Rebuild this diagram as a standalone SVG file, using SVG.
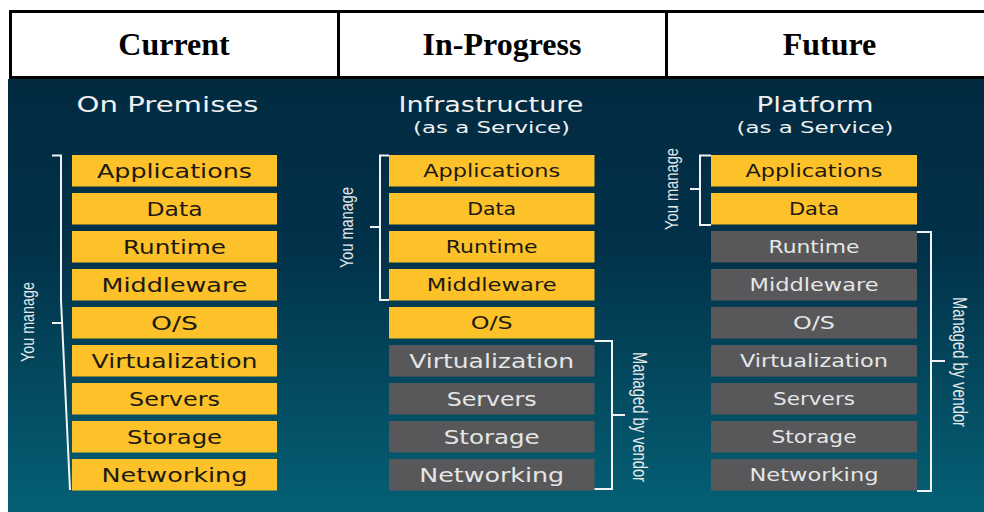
<svg xmlns="http://www.w3.org/2000/svg" width="984" height="512" viewBox="0 0 984 512">
<defs>
<linearGradient id="bg" x1="0" y1="0" x2="0" y2="1">
<stop offset="0" stop-color="#012a40"/>
<stop offset="0.4" stop-color="#01324a"/>
<stop offset="1" stop-color="#056074"/>
</linearGradient>
<style>
.hdr{font-family:"Liberation Serif","Times New Roman",serif;font-weight:bold;font-size:32px;fill:#000;text-anchor:middle}
.hl{stroke:#000;stroke-width:3;fill:none}
.title{font-family:"DejaVu Sans","Open Sans",sans-serif;fill:#f0f0f0;text-anchor:middle}
.y{fill:#fdc12a}
.g{fill:#58585a}
.bt{font-family:"DejaVu Sans","Open Sans",sans-serif;text-anchor:middle}
.dk{fill:#1c1a10}
.lt{fill:#e6e6e6}
.s1{font-size:19.5px}
.s2{font-size:17px}
.br{stroke:#f2f2f2;stroke-width:2;fill:none}
.side{font-family:"Liberation Sans",Arial,sans-serif;fill:#e4e8ea;text-anchor:middle}
</style>
</defs>
<rect width="984" height="512" fill="#fff"/>
<g id="header">
<line class="hl" x1="9" y1="11.5" x2="984" y2="11.5"/>
<line class="hl" x1="9" y1="77.5" x2="984" y2="77.5"/>
<line class="hl" x1="10.5" y1="10" x2="10.5" y2="79"/>
<line class="hl" x1="338.5" y1="10" x2="338.5" y2="79"/>
<line class="hl" x1="666.5" y1="10" x2="666.5" y2="79"/>
<text class="hdr" x="174" y="55">Current</text>
<text class="hdr" x="502" y="55">In-Progress</text>
<text class="hdr" x="829.5" y="55">Future</text>
</g>
<rect id="panel" x="8" y="79" width="976" height="433" fill="url(#bg)"/>
<g id="titles">
<text class="title" x="167.5" y="112" font-size="21" textLength="182" lengthAdjust="spacingAndGlyphs">On Premises</text>
<text class="title" x="491" y="112" font-size="20.5" textLength="185" lengthAdjust="spacingAndGlyphs">Infrastructure</text>
<text class="title" x="491.5" y="133" font-size="16.5" textLength="157" lengthAdjust="spacingAndGlyphs">(as a Service)</text>
<text class="title" x="815" y="112" font-size="20.5" textLength="117" lengthAdjust="spacingAndGlyphs">Platform</text>
<text class="title" x="815" y="133" font-size="16.5" textLength="157" lengthAdjust="spacingAndGlyphs">(as a Service)</text>
</g>
<g id="col-onprem">
<g id="op-applications"><rect class="y" x="72" y="155" width="205" height="31.5"/><text class="bt dk s1" x="174.5" y="178" textLength="155" lengthAdjust="spacingAndGlyphs">Applications</text></g>
<g id="op-data"><rect class="y" x="72" y="193" width="205" height="31.5"/><text class="bt dk s1" x="174.5" y="216" textLength="56" lengthAdjust="spacingAndGlyphs">Data</text></g>
<g id="op-runtime"><rect class="y" x="72" y="231" width="205" height="31.5"/><text class="bt dk s1" x="174.5" y="254" textLength="103" lengthAdjust="spacingAndGlyphs">Runtime</text></g>
<g id="op-middleware"><rect class="y" x="72" y="269" width="205" height="31.5"/><text class="bt dk s1" x="174.5" y="292" textLength="146" lengthAdjust="spacingAndGlyphs">Middleware</text></g>
<g id="op-os"><rect class="y" x="72" y="307" width="205" height="31.5"/><text class="bt dk s1" x="174.5" y="330" textLength="47" lengthAdjust="spacingAndGlyphs">O/S</text></g>
<g id="op-virtualization"><rect class="y" x="72" y="345" width="205" height="31.5"/><text class="bt dk s1" x="174.5" y="368" textLength="166" lengthAdjust="spacingAndGlyphs">Virtualization</text></g>
<g id="op-servers"><rect class="y" x="72" y="383" width="205" height="31.5"/><text class="bt dk s1" x="174.5" y="406" textLength="91" lengthAdjust="spacingAndGlyphs">Servers</text></g>
<g id="op-storage"><rect class="y" x="72" y="421" width="205" height="31.5"/><text class="bt dk s1" x="174.5" y="444" textLength="95" lengthAdjust="spacingAndGlyphs">Storage</text></g>
<g id="op-networking"><rect class="y" x="72" y="459" width="205" height="31.5"/><text class="bt dk s1" x="174.5" y="482" textLength="146" lengthAdjust="spacingAndGlyphs">Networking</text></g>
</g>
<g id="col-iaas">
<g id="ia-applications"><rect class="y" x="389" y="155" width="205.5" height="31.5"/><text class="bt dk s2" x="491.7" y="176.8" textLength="137" lengthAdjust="spacingAndGlyphs">Applications</text></g>
<g id="ia-data"><rect class="y" x="389" y="193" width="205.5" height="31.5"/><text class="bt dk s2" x="491.7" y="214.8" textLength="49" lengthAdjust="spacingAndGlyphs">Data</text></g>
<g id="ia-runtime"><rect class="y" x="389" y="231" width="205.5" height="31.5"/><text class="bt dk s2" x="491.7" y="252.8" textLength="92" lengthAdjust="spacingAndGlyphs">Runtime</text></g>
<g id="ia-middleware"><rect class="y" x="389" y="269" width="205.5" height="31.5"/><text class="bt dk s2" x="491.7" y="290.8" textLength="130" lengthAdjust="spacingAndGlyphs">Middleware</text></g>
<g id="ia-os"><rect class="y" x="389" y="307" width="205.5" height="31.5"/><text class="bt dk s2" x="491.7" y="328.8" textLength="42" lengthAdjust="spacingAndGlyphs">O/S</text></g>
<g id="ia-virtualization"><rect class="g" x="389" y="345" width="205.5" height="31.5"/><text class="bt lt s1" x="491.7" y="367.6" textLength="165" lengthAdjust="spacingAndGlyphs">Virtualization</text></g>
<g id="ia-servers"><rect class="g" x="389" y="383" width="205.5" height="31.5"/><text class="bt lt s1" x="491.7" y="405.6" textLength="90" lengthAdjust="spacingAndGlyphs">Servers</text></g>
<g id="ia-storage"><rect class="g" x="389" y="421" width="205.5" height="31.5"/><text class="bt lt s1" x="491.7" y="443.6" textLength="96" lengthAdjust="spacingAndGlyphs">Storage</text></g>
<g id="ia-networking"><rect class="g" x="389" y="459" width="205.5" height="31.5"/><text class="bt lt s1" x="491.7" y="481.6" textLength="145" lengthAdjust="spacingAndGlyphs">Networking</text></g>
</g>
<g id="col-paas">
<g id="pa-applications"><rect class="y" x="711" y="155" width="206" height="31.5"/><text class="bt dk s2" x="814" y="176.5" textLength="137" lengthAdjust="spacingAndGlyphs">Applications</text></g>
<g id="pa-data"><rect class="y" x="711" y="193" width="206" height="31.5"/><text class="bt dk s2" x="814" y="214.5" textLength="50" lengthAdjust="spacingAndGlyphs">Data</text></g>
<g id="pa-runtime"><rect class="g" x="711" y="231" width="206" height="31.5"/><text class="bt lt s2" x="814" y="252.5" textLength="91" lengthAdjust="spacingAndGlyphs">Runtime</text></g>
<g id="pa-middleware"><rect class="g" x="711" y="269" width="206" height="31.5"/><text class="bt lt s2" x="814" y="290.5" textLength="129" lengthAdjust="spacingAndGlyphs">Middleware</text></g>
<g id="pa-os"><rect class="g" x="711" y="307" width="206" height="31.5"/><text class="bt lt s2" x="814" y="328.5" textLength="42" lengthAdjust="spacingAndGlyphs">O/S</text></g>
<g id="pa-virtualization"><rect class="g" x="711" y="345" width="206" height="31.5"/><text class="bt lt s2" x="814" y="366.5" textLength="148" lengthAdjust="spacingAndGlyphs">Virtualization</text></g>
<g id="pa-servers"><rect class="g" x="711" y="383" width="206" height="31.5"/><text class="bt lt s2" x="814" y="404.5" textLength="82" lengthAdjust="spacingAndGlyphs">Servers</text></g>
<g id="pa-storage"><rect class="g" x="711" y="421" width="206" height="31.5"/><text class="bt lt s2" x="814" y="442.5" textLength="85" lengthAdjust="spacingAndGlyphs">Storage</text></g>
<g id="pa-networking"><rect class="g" x="711" y="459" width="206" height="31.5"/><text class="bt lt s2" x="814" y="480.5" textLength="129" lengthAdjust="spacingAndGlyphs">Networking</text></g>
</g>
<g id="connectors">
<path class="br" d="M52,155.5 H61 V300 L70,490"/>
<path class="br" d="M52,323 H62"/>
<path class="br" d="M389,155.5 H380 V300 H389 M380,227 H370"/>
<path class="br" d="M594.5,341 H612 V489 H594.5 M612,415 H625"/>
<path class="br" d="M711,155.5 H700 V225 H711 M700,189 H690"/>
<path class="br" d="M917,232 H931 V491 H917 M931,361 H945"/>
</g>
<g id="labels">
<text class="side" font-size="19" transform="translate(34,322) rotate(-90)" textLength="80" lengthAdjust="spacingAndGlyphs">You manage</text>
<text class="side" font-size="19" transform="translate(353,227.5) rotate(-90)" textLength="81" lengthAdjust="spacingAndGlyphs">You manage</text>
<text class="side" font-size="19" transform="translate(678,189) rotate(-90)" textLength="82" lengthAdjust="spacingAndGlyphs">You manage</text>
<text class="side" font-size="21" transform="translate(632.5,417) rotate(90)" textLength="130" lengthAdjust="spacingAndGlyphs">Managed by vendor</text>
<text class="side" font-size="21" transform="translate(952.5,362) rotate(90)" textLength="130" lengthAdjust="spacingAndGlyphs">Managed by vendor</text>
</g>
</svg>
